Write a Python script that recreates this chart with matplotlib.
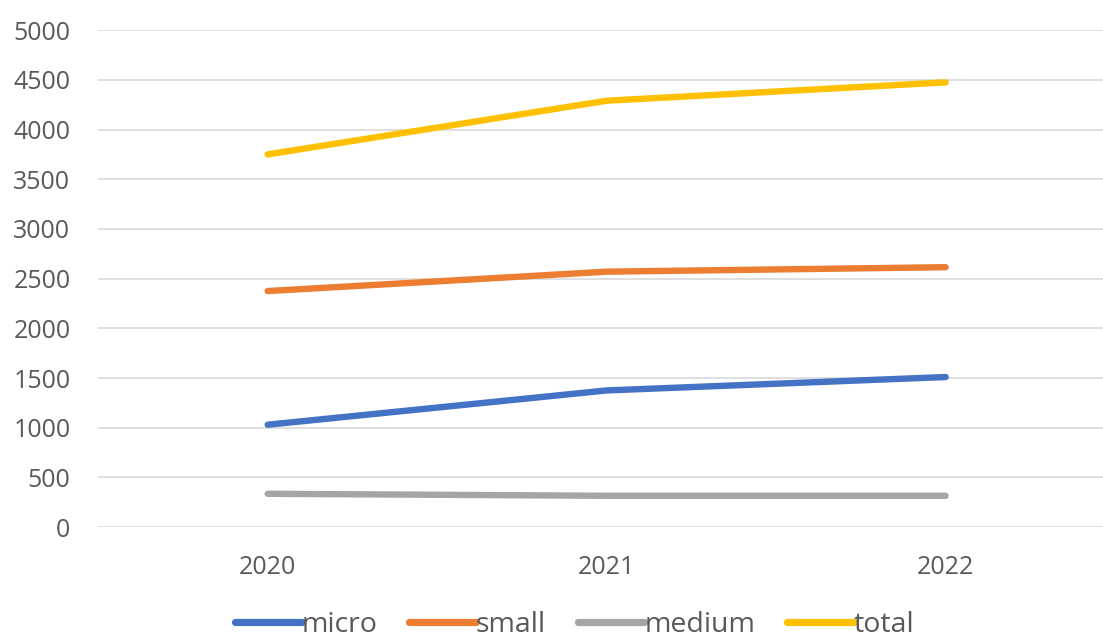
import numpy as np
import matplotlib.pyplot as plt

# Values
years = ['2020', '2021', '2022']
micro = [1030, 1375, 1510]
small = [2375, 2570, 2615]
medium = [335, 315, 315]
total = [3750, 4290, 4475]

series = [('micro', micro, '#4472C4'),
          ('small', small, '#ED7D31'),
          ('medium', medium, '#A5A5A5'),
          ('total', total, '#FFC000')]

plt.rcParams['font.family'] = ['Open Sans', 'DejaVu Sans']

fig = plt.figure(figsize=(11.03, 6.42), dpi=100)
ax = fig.add_axes([0.089, 0.179, 0.922, 0.774])

x = np.arange(len(years))
for name, vals, col in series:
    ax.plot(x, vals, color=col, lw=4.6, label=name, solid_capstyle='round')

ax.set_xlim(-0.5, 2.5)
ax.set_ylim(0, 5000)
ax.set_yticks(np.arange(0, 5001, 500))
ax.set_xticks(x)
ax.set_xticklabels(years)
ax.grid(axis='y', color='#D9D9D9', lw=1.2)
ax.set_axisbelow(True)
for s in ax.spines.values():
    s.set_visible(False)
ax.tick_params(axis='both', length=0, labelsize=18, colors='#595959')
ax.tick_params(axis='y', pad=20)
ax.tick_params(axis='x', pad=20)

leg = fig.legend(loc='center', bbox_to_anchor=(0.521, 0.027), ncol=4,
                 frameon=False, fontsize=20.5, handlelength=2.35, handletextpad=0.0,
                 columnspacing=1.1, borderpad=0)
for line in leg.get_lines():
    line.set_linewidth(5.2)
for t in leg.get_texts():
    t.set_color('#595959')

fig.savefig('out.png', dpi=100, facecolor='white')
